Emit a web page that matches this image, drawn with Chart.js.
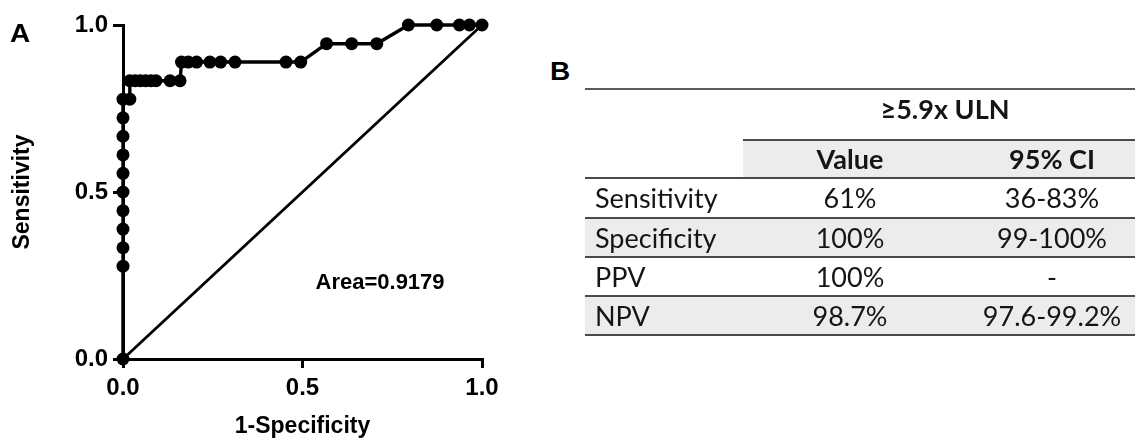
<!DOCTYPE html>
<html>
<head>
<meta charset="utf-8">
<script src="https://cdn.jsdelivr.net/npm/chart.js@4.4.0/dist/chart.umd.min.js"></script>
<style>
html,body{margin:0;padding:0;background:#fff;overflow:hidden;width:1135px;height:438px;}
#wrap{position:relative;width:1135px;height:438px;overflow:hidden;}
#chartBox{position:absolute;left:0;top:0;width:540px;height:438px;}
.panel{position:absolute;font-family:"Liberation Sans",Arial,sans-serif;font-weight:bold;font-size:25px;line-height:25px;color:#000;transform-origin:0 0;transform:scaleX(1.12);}
#tbl{position:absolute;left:0;top:0;width:1135px;height:438px;font-family:Lato,"Open Sans",sans-serif;font-size:27px;color:#151515;}
#tbl .bg{position:absolute;background:#ececec;}
#tbl .ln{position:absolute;height:2px;background:#4a4a4a;}
#tbl .tx{position:absolute;height:32px;line-height:32px;white-space:nowrap;}
#tbl .tx.c{text-align:center;}
#tbl .b{font-weight:bold;}
</style>
</head>
<body>
<div id="wrap">
  <div id="chartBox"><canvas id="roc" width="540" height="438"></canvas></div>
  <div class="panel" style="left:10px;top:21px;">A</div>
  <div class="panel" style="left:550px;top:59px;">B</div>
  <div id="tbl"></div>
</div>
<script>
// ---- ROC data ----
const fpr = [0, 0, 0, 0, 0, 0, 0, 0, 0, 0, 0,
             0.019, 0.019, 0.034, 0.048, 0.063, 0.078, 0.092, 0.131, 0.159,
             0.163, 0.182, 0.205, 0.242, 0.272, 0.312, 0.454, 0.495,
             0.567, 0.637, 0.707,
             0.795, 0.874, 0.937, 0.965, 1.0];
const sensitivity = [0, 0.278, 0.333, 0.389, 0.444, 0.5, 0.556, 0.611, 0.667, 0.722, 0.778,
             0.778, 0.833, 0.833, 0.833, 0.833, 0.833, 0.833, 0.833, 0.833,
             0.889, 0.889, 0.889, 0.889, 0.889, 0.889, 0.889, 0.889,
             0.944, 0.944, 0.944,
             1.0, 1.0, 1.0, 1.0, 1.0];
const refLineX = [0, 1];
const refLineY = [0, 1];
const axisTicks = [0, 0.5, 1.0];
const areaLabel = 'Area=0.9179';
const xTitle = '1-Specificity';
const yTitle = 'Sensitivity';

// ---- Table data ----
const groupHeader = '≥5.9x ULN';
const colHeaders = ['Value', '95% CI'];
const rowLabels = ['Sensitivity', 'Specificity', 'PPV', 'NPV'];
const rowValues = ['61%', '100%', '100%', '98.7%'];
const rowCI = ['36-83%', '99-100%', '-', '97.6-99.2%'];

// ---- Table layout ----
(function buildTable() {
  const host = document.getElementById('tbl');
  const L = 585, C1 = 743, C2 = 957, R = 1147;
  const parts = [];
  const box = (cls, x, y, w, h, txt, extra) => {
    parts.push('<div class="' + cls + '" style="left:' + x + 'px;top:' + y + 'px;width:' + w + 'px;' + (h != null ? 'height:' + h + 'px;' : '') + (extra || '') + '">' + (txt || '') + '</div>');
  };
  box('bg', C1, 141, R - C1, 37);
  const rowTops = [178, 218, 257, 296];
  const rowBottoms = [218, 257, 296, 335];
  rowLabels.forEach((_, i) => { if (i % 2 === 1) box('bg', L, rowTops[i] + 1, R - L, rowBottoms[i] - rowTops[i] - 1); });
  box('ln', L, 88, R - L, null, '', 'background:#5a5a5a;');
  box('ln', C1, 139, R - C1);
  box('ln', L, 177, R - L);
  rowBottoms.forEach(y => box('ln', L, y - 1, R - L));
  box('tx c b', C1, 109 - 16, R - C1, null, groupHeader);
  box('tx c b', C1, 159 - 16, C2 - C1, null, colHeaders[0]);
  box('tx c b', C2, 159 - 16, R - C2, null, colHeaders[1]);
  rowLabels.forEach((lab, i) => {
    const cy = (rowTops[i] + rowBottoms[i]) / 2;
    box('tx', L + 10, cy - 16, C1 - L - 10, null, lab);
    box('tx c', C1, cy - 16, C2 - C1, null, rowValues[i]);
    box('tx c', C2, cy - 16, R - C2, null, rowCI[i]);
  });
  host.innerHTML = parts.join('');
})();

// ---- Chart ----
const FONT = '"Liberation Sans", Arial, sans-serif';
const rocPoints = fpr.map((x, i) => ({x: x, y: sensitivity[i]}));
const refPoints = refLineX.map((x, i) => ({x: x, y: refLineY[i]}));

const areaPlugin = {
  id: 'areaText',
  afterDatasetsDraw(chart) {
    const {ctx, scales} = chart;
    const px = scales.x.getPixelForValue(0.716);
    const py = scales.y.getPixelForValue(0.228);
    ctx.save();
    ctx.font = 'bold 22px ' + FONT;
    ctx.fillStyle = '#000';
    ctx.textAlign = 'center';
    ctx.textBaseline = 'middle';
    ctx.fillText(areaLabel, px, py);
    ctx.restore();
  }
};

const axisCommon = {
  type: 'linear',
  min: 0,
  max: 1,
  afterBuildTicks(scale) { scale.ticks = axisTicks.map(v => ({value: v})); },
  grid: {drawOnChartArea: false, drawTicks: true, color: '#000', lineWidth: 3},
  border: {display: true, color: '#000', width: 3},
};

new Chart(document.getElementById('roc'), {
  type: 'scatter',
  data: {
    datasets: [
      {
        data: refPoints,
        showLine: true,
        borderColor: '#000',
        borderWidth: 2.8,
        pointRadius: 0,
        clip: false,
      },
      {
        data: rocPoints,
        showLine: true,
        borderColor: '#000',
        borderWidth: 3.4,
        backgroundColor: '#000',
        pointBackgroundColor: '#000',
        pointBorderColor: '#000',
        pointBorderWidth: 0,
        pointRadius: 6.5,
        tension: 0,
        clip: false,
      }
    ]
  },
  options: {
    responsive: false,
    animation: false,
    devicePixelRatio: 1,
    layout: {padding: {left: 0, right: 58, top: 25, bottom: 0}},
    plugins: {legend: {display: false}, tooltip: {enabled: false}},
    scales: {
      x: Object.assign({}, axisCommon, {
        position: 'bottom',
        grid: Object.assign({}, axisCommon.grid, {tickLength: 9}),
        ticks: {color: '#000', padding: 6, maxRotation: 0, autoSkip: false,
                font: {family: FONT, size: 24, weight: 'bold'},
                callback: v => Number(v).toFixed(1)},
        title: {display: true, text: xTitle, color: '#000',
                font: {family: FONT, size: 23, weight: 'bold', lineHeight: 1},
                padding: {top: 0, bottom: 0}},
        afterFit(scale) { scale.height = 79; }
      }),
      y: Object.assign({}, axisCommon, {
        position: 'left',
        grid: Object.assign({}, axisCommon.grid, {tickLength: 10}),
        ticks: {color: '#000', padding: 5, autoSkip: false,
                font: {family: FONT, size: 24, weight: 'bold'},
                callback: v => Number(v).toFixed(1)},
        title: {display: true, text: yTitle, color: '#000',
                font: {family: FONT, size: 23, weight: 'bold', lineHeight: 1},
                padding: {top: 11, bottom: 0}},
        afterFit(scale) { scale.width = 123; }
      })
    }
  },
  plugins: [areaPlugin]
});
</script>
</body>
</html>
